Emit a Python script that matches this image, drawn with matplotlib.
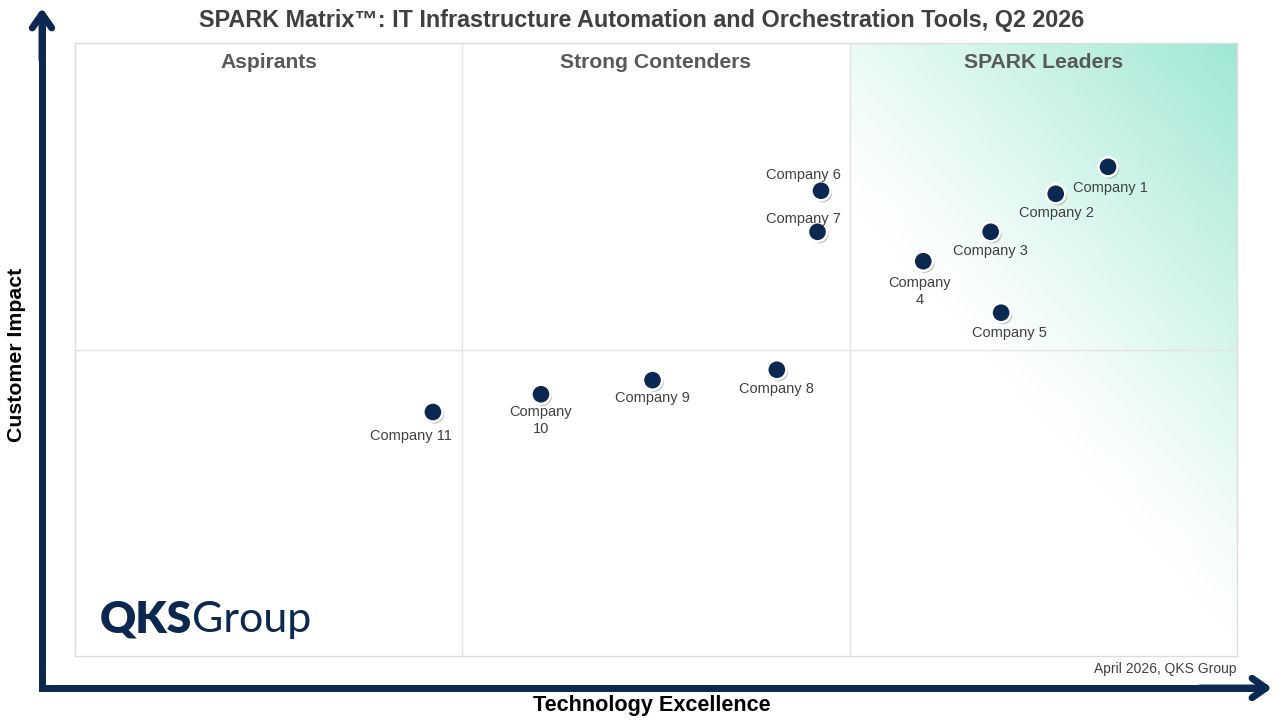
import numpy as np
import matplotlib.pyplot as plt
import matplotlib.patheffects as pe

plt.rcParams['font.family'] = ['Liberation Sans', 'DejaVu Sans']

# Datos del cuadrante (0-100 en ambos ejes)
empresas = ['Company 1', 'Company 2', 'Company 3', 'Company\n4', 'Company 5',
            'Company 6', 'Company 7', 'Company 8', 'Company 9', 'Company\n10',
            'Company 11']
tecnologia = [88.9, 84.4, 78.8, 73.0, 79.7, 64.2, 63.9, 60.4, 49.7, 40.1, 30.8]
impacto = [79.8, 75.4, 69.2, 64.4, 56.0, 75.9, 69.2, 46.7, 45.0, 42.7, 39.8]
cuadrantes = ['Aspirants', 'Strong Contenders', 'SPARK Leaders']

# desplazamiento de etiquetas en pixeles
offsets = [(2, -21), (1, -19), (0, -19), (-4, -30), (8, -20), (-18, 16),
           (-14, 13), (0, -19), (0, -18), (0, -26), (-22, -24)]

navy = '#0b2850'
gris = '#404040'

fig = plt.figure(figsize=(12.8, 7.2), dpi=100)
ax = fig.add_axes([75/1280, 64/720, 1162/1280, 613/720])
ax.set_xlim(0, 100)
ax.set_ylim(0, 100)
ax.set_xticks([])
ax.set_yticks([])
for s in ax.spines.values():
    s.set_color('#dcdcdc')
    s.set_linewidth(1)

# Degradado de la zona de lideres
w, h = 390, 613
xp, yp = np.meshgrid(np.linspace(0, w, 200), np.linspace(0, h, 300))
sv = 440 * xp + 390 * yp
t = np.clip((sv - 177840) / (410670 - 177840), 0, 1) ** 1.15
teal = np.array([0x9e, 0xe8, 0xd3]) / 255
img = np.ones((300, 200, 3)) * (1 - t[..., None]) + teal * t[..., None]
ax.imshow(img, extent=[200/3, 100, 0, 100], origin='lower', aspect='auto', zorder=0)

ax.axvline(100/3, color='#e3e3e3', lw=1, zorder=1)
ax.axvline(200/3, color='#e3e3e3', lw=1, zorder=1)
ax.axhline(50, color='#e3e3e3', lw=1, zorder=1)

for i, nombre in enumerate(cuadrantes):
    ax.text(100/6 + i * 100/3, 96.8, nombre, ha='center', va='center',
            fontsize=15.2, fontweight='bold', color='#595959')

sombra = [pe.SimplePatchShadow(offset=(1.2, -1.5), shadow_rgbFace='#888888', alpha=0.5), pe.Normal()]
ax.scatter(tecnologia, impacto, s=190, color=navy, edgecolor='white', linewidth=1.8,
           zorder=5, path_effects=sombra)

for x, y, nombre, (dx, dy) in zip(tecnologia, impacto, empresas, offsets):
    ax.annotate(nombre, (x, y), xytext=(dx, dy), textcoords='offset pixels',
                ha='center', va='center', fontsize=10.5, color=gris,
                linespacing=1.25, zorder=6)

# Logo
ax.text(25/1162*100, 3.9, 'QKS', fontsize=32, fontweight='heavy', color=navy,
        family=['Lato', 'DejaVu Sans'], va='baseline', ha='left')
ax.text(117/1162*100, 3.9, 'Group', fontsize=31, color=navy,
        family=['Lato', 'DejaVu Sans'], va='baseline', ha='left')

# Titulos
fig.text(642/1280, 1 - 20/720, 'SPARK Matrix\u2122: IT Infrastructure Automation and Orchestration Tools, Q2 2026',
         ha='center', va='center', fontsize=16.8, fontweight='bold', color=gris)
fig.text(1236/1280, 1 - 669/720, 'April 2026, QKS Group', ha='right', va='center',
         fontsize=10, color=gris)
fig.text(652/1280, 1 - 705/720, 'Technology Excellence', ha='center', va='center',
         fontsize=15.6, fontweight='bold', color='black')
fig.text(17/1280, 1 - 355/720, 'Customer Impact', ha='center', va='center',
         rotation=90, fontsize=15.3, fontweight='bold', color='black')

# Flechas de los ejes
flecha = dict(arrowstyle='->,head_length=1.0,head_width=0.7', color=navy, lw=5,
              shrinkA=0, shrinkB=0)
fig.add_artist(plt.Line2D([42/1280, 42/1280, 1262/1280], [1 - 20/720, 1 - 688/720, 1 - 688/720],
                          color=navy, lw=5, solid_joinstyle='miter', solid_capstyle='projecting'))
ax.annotate('', xy=(42/1280, 1 - 8/720), xytext=(42/1280, 1 - 60/720),
            xycoords='figure fraction', arrowprops=flecha, annotation_clip=False)
ax.annotate('', xy=(1272/1280, 1 - 688/720), xytext=(1200/1280, 1 - 688/720),
            xycoords='figure fraction', arrowprops=flecha, annotation_clip=False)

fig.savefig('out.png', dpi=100)
